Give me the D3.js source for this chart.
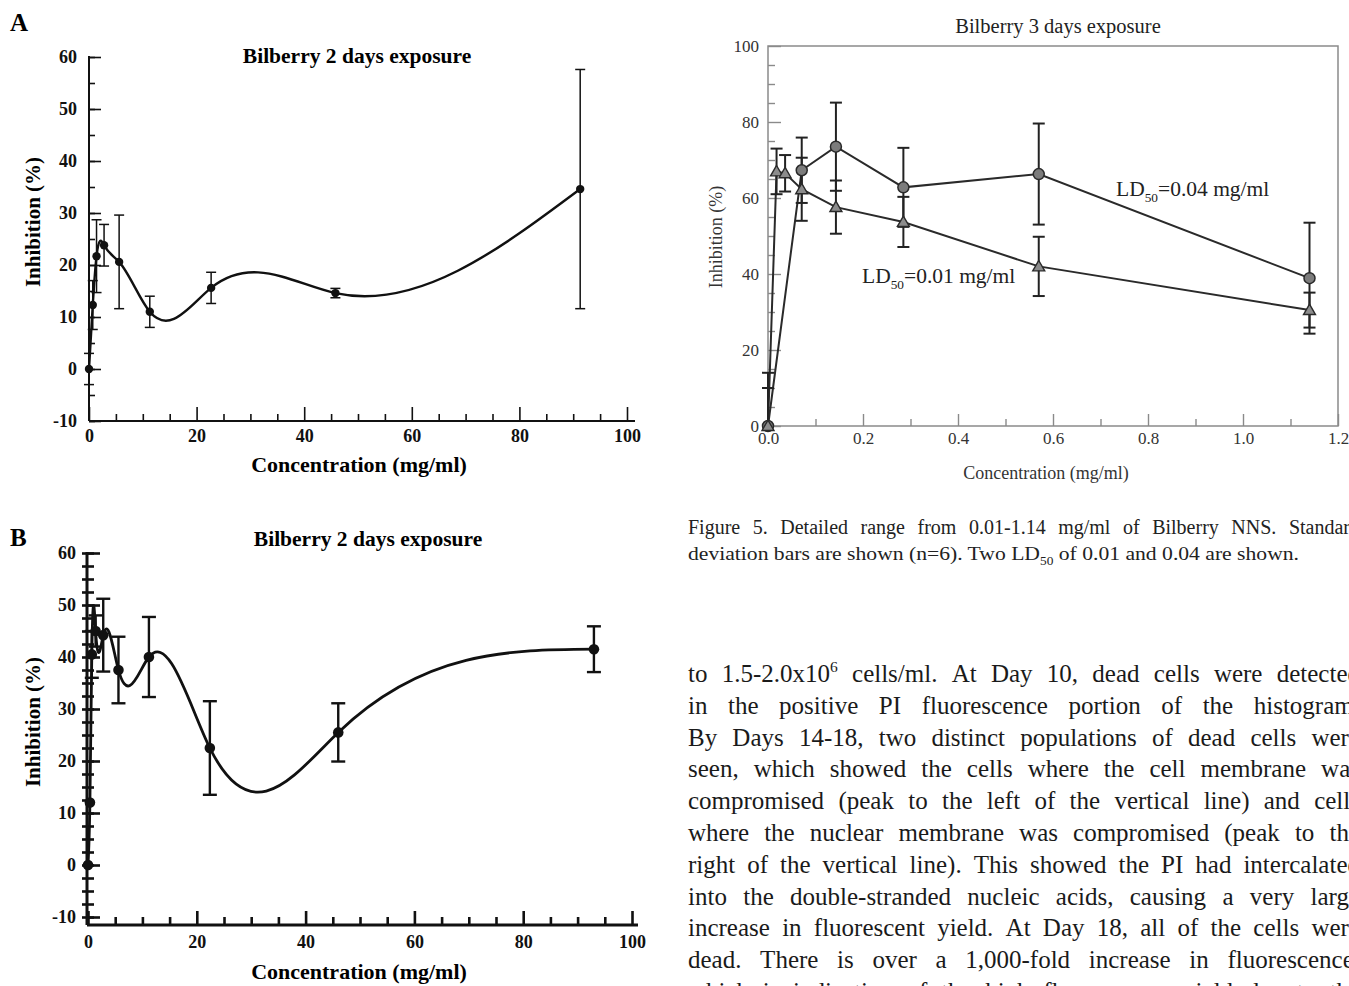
<!DOCTYPE html>
<html>
<head>
<meta charset="utf-8">
<script src="https://cdn.jsdelivr.net/npm/d3@7"></script>
<style>
  body { margin: 0; background: #fff; }
  svg { display: block; }
</style>
</head>
<body>
<div id="fig"></div>
<script>
// panel A : Bilberry 2 days exposure
const concA = [0, 0.7, 1.4, 2.8, 5.6, 11.3, 22.7, 45.8, 91.3]
const inhA = [0, 12.3, 21.7, 23.8, 20.6, 11, 15.6, 14.6, 34.6]
const sdA = [3, 4.7, 7, 4, 9, 3, 3, 0.9, 23]

// panel B : Bilberry 2 days exposure (repeat)
const concB = [0, 0.35, 0.7, 1.4, 2.8, 5.6, 11.2, 22.4, 46, 93]
const inhB = [0, 12, 40.5, 45, 44.2, 37.5, 40, 22.5, 25.5, 41.5]
const sdB = [0, 0, 4.5, 3, 7, 6.4, 7.7, 9, 5.6, 4.4]

// figure 5 : Bilberry 3 days exposure, two series
const concC1 = [0, 0.071, 0.143, 0.285, 0.57, 1.14]
const inhC1 = [0, 67.3, 73.5, 62.8, 66.3, 38.9]
const sdC1 = [14, 8.6, 11.6, 10.4, 13.3, 14.6]
const concC2 = [0, 0.018, 0.036, 0.071, 0.143, 0.285, 0.57, 1.14]
const inhC2 = [0, 67, 66.5, 62.3, 57.6, 53.7, 42, 30.5]
const sdC2 = [10, 6, 4.8, 8.3, 7, 6.6, 7.8, 4.6]

const ticksAB = [-10, 0, 10, 20, 30, 40, 50, 60]
const xticksAB = [0, 20, 40, 60, 80, 100]
const ticksCy = [0, 20, 40, 60, 80, 100]
const ticksCx = [0, 0.2, 0.4, 0.6, 0.8, 1.0, 1.2]

const captionLines = [
  "Figure 5. Detailed range from 0.01-1.14 mg/ml of Bilberry NNS. Standard",
  "deviation bars are shown (n=6). Two LD_50 of 0.01 and 0.04 are shown."
]
const bodyLines = [
  "to 1.5-2.0x10^6 cells/ml. At Day 10, dead cells were detected",
  "in the positive PI fluorescence portion of the histogram.",
  "By Days 14-18, two distinct populations of dead cells were",
  "seen, which showed the cells where the cell membrane was",
  "compromised (peak to the left of the vertical line) and cells",
  "where the nuclear membrane was compromised (peak to the",
  "right of the vertical line). This showed the PI had intercalated",
  "into the double-stranded nucleic acids, causing a very large",
  "increase in fluorescent yield. At Day 18, all of the cells were",
  "dead. There is over a 1,000-fold increase in fluorescence,",
  "which is indication of the high fluorescence yield due to the"
]

const W = 1349, H = 986
const serif = "'Liberation Serif', 'Times New Roman', serif"
const svg = d3.select("#fig").append("svg")
  .attr("width", W)
  .attr("height", H)

// natural cubic spline with y as a function of x (what the old plotting program drew)
function curveNaturalX(context) {
  let xs, ys
  return {
    areaStart() {}, areaEnd() {},
    lineStart() { xs = []; ys = [] },
    point(x, y) { xs.push(+x); ys.push(+y) },
    lineEnd() {
      const n = xs.length
      if (!n) return
      context.moveTo(xs[0], ys[0])
      if (n < 3) { for (let i = 1; i < n; i++) context.lineTo(xs[i], ys[i]); return }
      const h = [], s = []
      for (let i = 0; i < n - 1; i++) { h[i] = xs[i + 1] - xs[i]; s[i] = (ys[i + 1] - ys[i]) / h[i] }
      // tridiagonal solve for second derivatives
      const m = n - 2, cp = [], dp = []
      for (let k = 0; k < m; k++) {
        const i = k + 1
        const a = h[i - 1], b = 2 * (h[i - 1] + h[i]), c = h[i], r = 6 * (s[i] - s[i - 1])
        if (k === 0) { cp[k] = c / b; dp[k] = r / b }
        else { const den = b - a * cp[k - 1]; cp[k] = c / den; dp[k] = (r - a * dp[k - 1]) / den }
      }
      const M = new Array(n).fill(0)
      for (let k = m - 1; k >= 0; k--) M[k + 1] = dp[k] - (k < m - 1 ? cp[k] * M[k + 2] : 0)
      for (let i = 0; i < n - 1; i++) {
        const d0 = s[i] - h[i] * (2 * M[i] + M[i + 1]) / 6
        const d1 = s[i] + h[i] * (M[i] + 2 * M[i + 1]) / 6
        context.bezierCurveTo(xs[i] + h[i] / 3, ys[i] + d0 * h[i] / 3,
          xs[i + 1] - h[i] / 3, ys[i + 1] - d1 * h[i] / 3, xs[i + 1], ys[i + 1])
      }
    }
  }
}

// text with ^sup and _sub digits
function rich(t, str, fs) {
  const parts = str.split(/(\^\d+|_\d+)/).filter(p => p)
  let back = 0
  parts.forEach(p => {
    if (p[0] === "^" || p[0] === "_") {
      const d = p[0] === "^" ? -0.42 * fs : 0.26 * fs
      t.append("tspan").attr("font-size", fs * 0.62).attr("dy", d).text(p.slice(1))
      back = -d
    } else {
      t.append("tspan").attr("dy", back).text(p)
      back = 0
    }
  })
  return t
}

// one justified line: words placed one by one, spare room shared between the gaps
function justify(str, x0, x1, yb, fs, color) {
  const words = str.split(" ")
  const nodes = words.map(w => rich(svg.append("text")
    .attr("y", yb)
    .attr("font-family", serif)
    .attr("font-size", fs)
    .attr("fill", color), w, fs))
  const widths = nodes.map(t => t.node().getComputedTextLength())
  const gap = Math.max(fs * 0.2, (x1 - x0 - d3.sum(widths)) / (words.length - 1))
  let cx = x0
  nodes.forEach((t, i) => { t.attr("x", cx); cx += widths[i] + gap })
}

function curvePanel(o) {
  const g = svg.append("g")
  const x = d3.scaleLinear().domain([0, 100]).range(o.xr)
  const y = d3.scaleLinear().domain([-10, 60]).range(o.yr)
  const pts = o.conc.map((c, i) => ({ c: c, v: o.inh[i], sd: o.sd[i] }))

  const styleAxis = a => {
    a.select(".domain").remove()
    a.selectAll("line").attr("stroke", "#111").attr("stroke-width", o.tickW)
    a.selectAll("text")
      .attr("font-family", serif)
      .attr("font-weight", "bold")
      .attr("font-size", o.tickFs)
      .attr("fill", "#111")
  }

  // y ticks
  g.append("g").attr("transform", `translate(${o.axX},0)`)
    .call(d3.axisLeft(y).tickValues(ticksAB).tickSize(-o.major).tickPadding(o.yPad).tickFormat(d => String(d)))
    .call(styleAxis)
  g.append("g").attr("transform", `translate(${o.axX},0)`)
    .call(d3.axisLeft(y).tickValues(d3.range(-10, 60.1, o.minorStep)).tickSize(-o.minor).tickFormat(""))
    .call(styleAxis)
  if (o.cross) {
    g.append("g").attr("transform", `translate(${o.axX},0)`)
      .call(d3.axisLeft(y).tickValues(d3.range(-10, 60.1, o.minorStep)).tickSize(o.cross).tickFormat(""))
      .call(styleAxis)
  }

  // x ticks
  g.append("g").attr("transform", `translate(0,${o.axY})`)
    .call(d3.axisBottom(x).tickValues(xticksAB).tickSize(-14).tickPadding(o.xPad))
    .call(styleAxis)
  g.append("g").attr("transform", `translate(0,${o.axY})`)
    .call(d3.axisBottom(x).tickValues(d3.range(5, 100, 5).filter(v => v % 20)).tickSize(-o.xMinor).tickFormat(""))
    .call(styleAxis)

  // axis lines
  g.append("line")
    .attr("x1", o.axX).attr("x2", o.axX)
    .attr("y1", y(60) - 1).attr("y2", o.axY)
    .attr("stroke", "#111").attr("stroke-width", o.axW)
  g.append("line")
    .attr("x1", o.axX).attr("x2", o.xEnd)
    .attr("y1", o.axY).attr("y2", o.axY)
    .attr("stroke", "#111").attr("stroke-width", o.axW)

  // smooth curve
  const line = d3.line()
    .x(d => x(d.c))
    .y(d => y(d.v))
    .curve(curveNaturalX)
  g.append("path")
    .datum(pts)
    .attr("d", line)
    .attr("fill", "none")
    .attr("stroke", "#111")
    .attr("stroke-width", o.lineW)

  // error bars
  const eb = g.append("g")
    .attr("stroke", "#111")
    .attr("stroke-width", o.barW)
  pts.filter(d => d.sd > 0).forEach(d => {
    eb.append("line")
      .attr("x1", x(d.c)).attr("x2", x(d.c))
      .attr("y1", y(d.v - d.sd)).attr("y2", y(d.v + d.sd))
    ;[d.v - d.sd, d.v + d.sd].forEach(v => {
      eb.append("line")
        .attr("x1", x(d.c) - o.cap).attr("x2", x(d.c) + o.cap)
        .attr("y1", y(v)).attr("y2", y(v))
    })
  })

  g.selectAll("circle.pt")
    .data(pts)
    .join("circle")
      .attr("class", "pt")
      .attr("cx", d => x(d.c))
      .attr("cy", d => y(d.v))
      .attr("r", o.r)
      .attr("fill", "#111")

  // labels
  g.append("text")
    .attr("x", o.titleX).attr("y", o.titleY)
    .attr("text-anchor", "middle")
    .attr("font-family", serif).attr("font-weight", "bold").attr("font-size", 21.5)
    .text("Bilberry 2 days exposure")
  g.append("text")
    .attr("x", 359).attr("y", o.xlabY)
    .attr("text-anchor", "middle")
    .attr("font-family", serif).attr("font-weight", "bold").attr("font-size", 22)
    .text("Concentration (mg/ml)")
  g.append("text")
    .attr("transform", `translate(40,${o.ylabY}) rotate(-90)`)
    .attr("text-anchor", "middle")
    .attr("font-family", serif).attr("font-weight", "bold").attr("font-size", 21)
    .text("Inhibition (%)")
  g.append("text")
    .attr("x", 10).attr("y", o.letterY)
    .attr("font-family", serif).attr("font-weight", "bold").attr("font-size", 25)
    .text(o.letter)
}

curvePanel({
  letter: "A", letterY: 31,
  conc: concA, inh: inhA, sd: sdA,
  xr: [89, 627], yr: [421, 57], axX: 89, axY: 421, xEnd: 635,
  major: 12, minor: 6, minorStep: 5, cross: 0, xMinor: 7,
  yPad: 12, xPad: 8, tickFs: 18, tickW: 1.6, axW: 2,
  lineW: 2.4, barW: 1.5, cap: 5, r: 4.2,
  titleX: 357, titleY: 63, xlabY: 472, ylabY: 222
})

curvePanel({
  letter: "B", letterY: 546,
  conc: concB, inh: inhB, sd: sdB,
  xr: [88, 632], yr: [917, 553], axX: 87, axY: 925, xEnd: 638,
  major: 13, minor: 7, minorStep: 2.5, cross: 5, xMinor: 8,
  yPad: 11, xPad: 10, tickFs: 18, tickW: 2.6, axW: 3,
  lineW: 2.8, barW: 2.4, cap: 7, r: 5.3,
  titleX: 368, titleY: 546, xlabY: 979, ylabY: 722
})

// ---- Figure 5 : 3 days exposure ----
const gC = svg.append("g")
const xC = d3.scaleLinear().domain([0, 1.2]).range([768, 1338])
const yC = d3.scaleLinear().domain([0, 100]).range([426, 46])

const styleC = a => {
  a.select(".domain").remove()
  a.selectAll("line").attr("stroke", "#8a8a8a").attr("stroke-width", 1.4)
  a.selectAll("text")
    .attr("font-family", serif)
    .attr("font-size", 17)
    .attr("fill", "#333")
}
gC.append("g").attr("transform", "translate(768,0)")
  .call(d3.axisLeft(yC).tickValues(ticksCy).tickSize(-13).tickPadding(9))
  .call(styleC)
gC.append("g").attr("transform", "translate(768,0)")
  .call(d3.axisLeft(yC).tickValues(d3.range(5, 100, 5).filter(v => v % 20)).tickSize(-7).tickFormat(""))
  .call(styleC)
gC.append("g").attr("transform", "translate(0,426)")
  .call(d3.axisBottom(xC).tickValues(ticksCx).tickSize(-12).tickPadding(6).tickFormat(d3.format(".1f")))
  .call(styleC)
gC.append("g").attr("transform", "translate(0,426)")
  .call(d3.axisBottom(xC).tickValues([0.1, 0.3, 0.5, 0.7, 0.9, 1.1]).tickSize(-7).tickFormat(""))
  .call(styleC)
gC.append("rect")
  .attr("x", xC(0)).attr("y", yC(100))
  .attr("width", xC(1.2) - xC(0)).attr("height", yC(0) - yC(100))
  .attr("fill", "none").attr("stroke", "#8a8a8a").attr("stroke-width", 1.5)

const seriesC = [
  { conc: concC1, inh: inhC1, sd: sdC1, shape: "circle" },
  { conc: concC2, inh: inhC2, sd: sdC2, shape: "triangle" }
].map(s => ({ shape: s.shape, pts: s.conc.map((c, i) => ({ c: c, v: s.inh[i], sd: s.sd[i] })) }))

const lineC = d3.line().x(d => xC(d.c)).y(d => yC(d.v))
seriesC.forEach(s => {
  gC.append("path")
    .datum(s.pts)
    .attr("d", lineC)
    .attr("fill", "none")
    .attr("stroke", "#2a2a2a")
    .attr("stroke-width", 2)
})
seriesC.forEach(s => {
  const eb = gC.append("g").attr("stroke", "#222").attr("stroke-width", 2)
  s.pts.forEach(d => {
    const lo = Math.max(0, d.v - d.sd), hi = d.v + d.sd
    eb.append("line")
      .attr("x1", xC(d.c)).attr("x2", xC(d.c))
      .attr("y1", yC(lo)).attr("y2", yC(hi))
    const caps = d.v - d.sd >= 0 ? [lo, hi] : [hi]
    caps.forEach(v => {
      eb.append("line")
        .attr("x1", xC(d.c) - 6).attr("x2", xC(d.c) + 6)
        .attr("y1", yC(v)).attr("y2", yC(v))
    })
  })
})
seriesC.forEach(s => {
  if (s.shape === "circle") {
    gC.selectAll(null).data(s.pts).join("circle")
      .attr("cx", d => xC(d.c)).attr("cy", d => yC(d.v)).attr("r", 5.5)
      .attr("fill", "#7c7c7c").attr("stroke", "#2a2a2a").attr("stroke-width", 1.5)
  } else {
    gC.selectAll(null).data(s.pts).join("path")
      .attr("transform", d => `translate(${xC(d.c)},${yC(d.v) + 1})`)
      .attr("d", d3.symbol(d3.symbolTriangle, 62))
      .attr("fill", "#8c8c8c").attr("stroke", "#2a2a2a").attr("stroke-width", 1.4)
  }
})

gC.append("text")
  .attr("x", 1058).attr("y", 33)
  .attr("text-anchor", "middle")
  .attr("font-family", serif).attr("font-size", 20.5).attr("fill", "#222")
  .text("Bilberry 3 days exposure")
gC.append("text")
  .attr("x", 1046).attr("y", 479)
  .attr("text-anchor", "middle")
  .attr("font-family", serif).attr("font-size", 18).attr("fill", "#333")
  .text("Concentration (mg/ml)")
gC.append("text")
  .attr("transform", "translate(722,237) rotate(-90)")
  .attr("text-anchor", "middle")
  .attr("font-family", serif).attr("font-size", 18).attr("fill", "#333")
  .text("Inhibition (%)")
rich(gC.append("text").attr("x", 1116).attr("y", 196)
  .attr("font-family", serif).attr("font-size", 21.5).attr("fill", "#222"), "LD_50=0.04 mg/ml", 21.5)
rich(gC.append("text").attr("x", 862).attr("y", 283)
  .attr("font-family", serif).attr("font-size", 21.5).attr("fill", "#222"), "LD_50=0.01 mg/ml", 21.5)

// ---- caption and body text ----
justify(captionLines[0], 688, 1360, 534, 20, "#222")
rich(svg.append("text").attr("x", 688).attr("y", 560)
  .attr("font-family", serif).attr("font-size", 19.5).attr("fill", "#222")
  .attr("textLength", 611).attr("lengthAdjust", "spacingAndGlyphs"), captionLines[1], 19.5)
bodyLines.forEach((l, i) => {
  justify(l, 688, 1360, 682 + i * 31.8, 25, "#1a1a1a")
})
</script>
</body>
</html>
